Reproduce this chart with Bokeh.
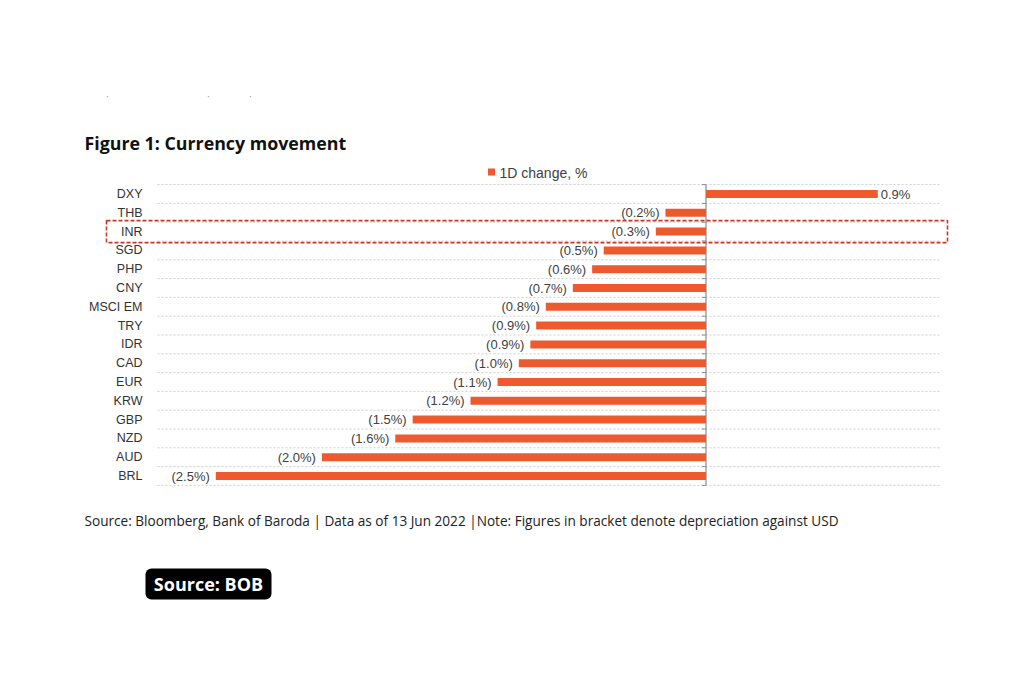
from bokeh.plotting import figure
from bokeh.models import Range1d, Label, BoxAnnotation, ColumnDataSource
from bokeh.core.properties import value
from bokeh.embed import file_html
from bokeh.resources import INLINE

# ---- data ----
currencies = ["DXY", "THB", "INR", "SGD", "PHP", "CNY", "MSCI EM", "TRY",
              "IDR", "CAD", "EUR", "KRW", "GBP", "NZD", "AUD", "BRL"]
change_1d = [0.89, -0.21, -0.26, -0.53, -0.59, -0.69, -0.83, -0.88,
             -0.91, -0.97, -1.08, -1.22, -1.52, -1.61, -1.99, -2.54]
series_name = "1D change, %"
highlight = "INR"

# ---- layout helpers (canvas pixels -> data units) ----
W, H = 1008, 667
ZERO_PX = 705.5      # canvas x of the zero line
PX_PER = 193.0       # pixels per 1 %
ROW0_PX = 193.5      # canvas y of first row centre
ROW_PX = 18.8        # row spacing

def px2x(px):
    return (px - ZERO_PX) / PX_PER

def px2y(py):
    return (py - ROW0_PX) / ROW_PX

p = figure(width=W, height=H, output_backend="svg", toolbar_location=None,
           x_range=Range1d(px2x(0), px2x(W)),
           y_range=Range1d(px2y(H), px2y(0)),
           min_border=0, outline_line_color=None)
p.axis.visible = False
p.grid.visible = False
p.background_fill_color = "white"
p.border_fill_color = "white"

n = len(currencies)
idx = list(range(n))

# gridlines (dotted) at category boundaries
bounds = [i - 0.5 for i in range(n + 1)]
p.segment(x0=[px2x(157)] * len(bounds), x1=[px2x(940)] * len(bounds),
          y0=bounds, y1=bounds, line_color="#CDCDCD", line_width=1,
          line_dash="2 2")

# zero axis with small ticks
p.segment(x0=[0], x1=[0], y0=[bounds[0]], y1=[bounds[-1]],
          line_color="#8C8C8C", line_width=1.2)
p.segment(x0=[-4 / PX_PER] * len(bounds), x1=[0] * len(bounds),
          y0=bounds, y1=bounds, line_color="#8C8C8C", line_width=1)

# bars
src = ColumnDataSource(dict(
    y=idx,
    left=[min(0, v) for v in change_1d],
    right=[max(0, v) for v in change_1d],
    v=change_1d,
    lab=[("(%.1f%%)" % abs(v)) if v < 0 else ("%.1f%%" % v) for v in change_1d],
))
p.hbar(y="y", left="left", right="right", height=8 / ROW_PX, source=src,
       fill_color="#EE5A2E", line_color=None)

# data labels
neg = [i for i, v in enumerate(change_1d) if v < 0]
pos = [i for i, v in enumerate(change_1d) if v >= 0]
lab = src.data["lab"]
p.text(x=[change_1d[i] for i in neg], y=neg, text=[lab[i] for i in neg],
       x_offset=-6, text_align="right", text_baseline="middle",
       text_font=value("Liberation Sans"), text_font_size="13px",
       text_color="#404040")
p.text(x=[change_1d[i] for i in pos], y=pos, text=[lab[i] for i in pos],
       x_offset=3, text_align="left", text_baseline="middle",
       text_font=value("Liberation Sans"), text_font_size="13px",
       text_color="#404040")

# category labels
p.text(x=[px2x(142)] * n, y=idx, text=currencies, text_align="right",
       text_baseline="middle", text_font=value("Liberation Sans"),
       text_font_size="12.5px", text_color="#333333")

# highlight box around INR row
hi = currencies.index(highlight)
p.add_layout(BoxAnnotation(left=px2x(106), right=px2x(947),
                           top=hi - 11 / ROW_PX, bottom=hi + 11 / ROW_PX,
                           fill_alpha=0, line_color="#C0392B", line_alpha=1,
                           line_width=1.6, line_dash="4 2"))

# legend
p.scatter(x=[px2x(491)], y=[px2y(171.5)], marker="square", size=7,
          fill_color="#EE5A2E", line_color=None)
p.add_layout(Label(x=px2x(499), y=px2y(172), text=series_name,
                   text_align="left", text_baseline="middle",
                   text_font="Liberation Sans", text_font_size="14px",
                   text_color="#404040"))

# title
p.add_layout(Label(x=px2x(84), y=px2y(142), text="Figure 1: Currency movement",
                   text_align="left", text_baseline="middle",
                   text_font="Open Sans", text_font_style="bold",
                   text_font_size="17.8px", text_color="#111111"))

# faint specks at top
for sx in (107, 208, 250):
    p.add_layout(Label(x=px2x(sx), y=px2y(96), text="·", text_align="center",
                       text_baseline="middle", text_font="Liberation Sans",
                       text_font_size="10px", text_color="#999999"))

# footer
p.add_layout(Label(x=px2x(84), y=px2y(520),
                   text="Source: Bloomberg, Bank of Baroda | Data as of 13 Jun 2022 |Note: Figures in bracket denote depreciation against USD",
                   text_align="left", text_baseline="middle",
                   text_font="Open Sans", text_font_size="13.6px",
                   text_color="#222222"))

# Source badge
p.add_layout(BoxAnnotation(left=px2x(145), right=px2x(271),
                           top=px2y(568), bottom=px2y(599),
                           fill_color="black", fill_alpha=1, line_color=None,
                           border_radius=6))
p.add_layout(Label(x=px2x(208), y=px2y(583), text="Source: BOB",
                   text_align="center", text_baseline="middle",
                   text_font="Open Sans", text_font_style="bold",
                   text_font_size="18px", text_color="white"))

open("out.html", "w").write(file_html(p, INLINE))
